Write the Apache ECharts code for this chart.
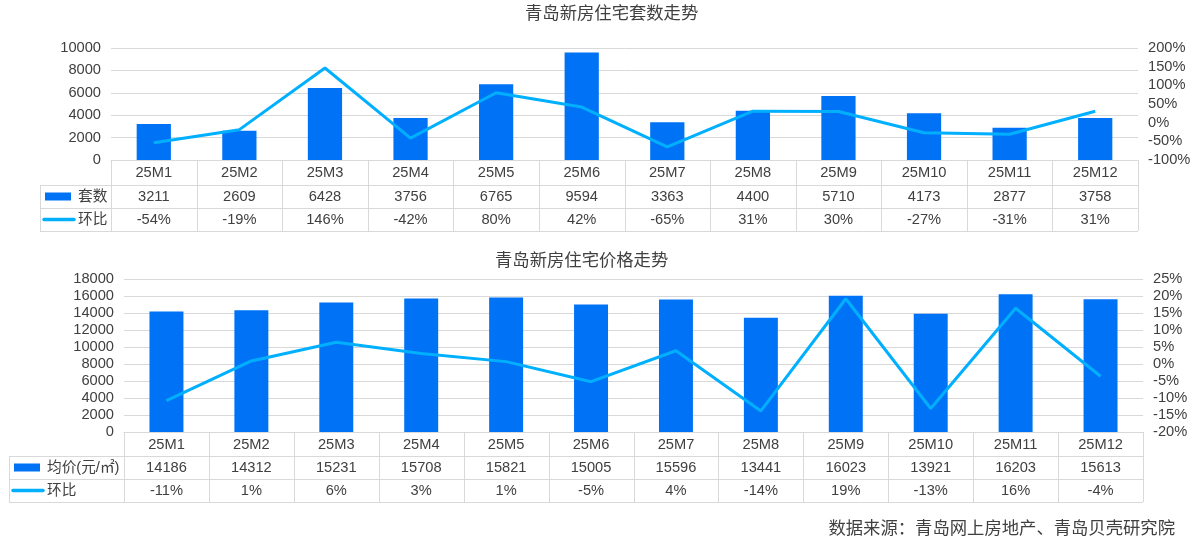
<!DOCTYPE html>
<html>
<head>
<meta charset="utf-8">
<script src="https://cdn.jsdelivr.net/npm/echarts@6/dist/echarts.min.js"></script>
<style>
html,body{margin:0;padding:0;background:#fff;}
#main{width:1201px;height:552px;}
</style>
</head>
<body>
<div id="main"></div>
<script>
// ---------- data ----------
const months = ['25M1','25M2','25M3','25M4','25M5','25M6','25M7','25M8','25M9','25M10','25M11','25M12'];
const unitSales = [3211, 2609, 6428, 3756, 6765, 9594, 3363, 4400, 5710, 4173, 2877, 3758];
const unitMoM = [-54, -18.7, 146.4, -41.6, 80.1, 41.8, -64.9, 30.8, 29.8, -26.9, -31.1, 30.6];
const unitMoMLabels = ['-54%','-19%','146%','-42%','80%','42%','-65%','31%','30%','-27%','-31%','31%'];
const avgPrice = [14186, 14312, 15231, 15708, 15821, 15005, 15596, 13441, 16023, 13921, 16203, 15613];
const priceMoM = [-10.8, 0.9, 6.4, 3.1, 0.7, -5.2, 3.9, -13.8, 19.2, -13.1, 16.4, -3.6];
const priceMoMLabels = ['-11%','1%','6%','3%','1%','-5%','4%','-14%','19%','-13%','16%','-4%'];
const titleTop = '青岛新房住宅套数走势';
const titleBottom = '青岛新房住宅价格走势';
const seriesNames = ['套数', '环比', '均价(元/㎡)', '环比'];
const sourceText = '数据来源：青岛网上房地产、青岛贝壳研究院';

// ---------- style ----------
const BAR = '#0072F6';
const LINE = '#00B0FF';
const GRID = '#D9D9D9';
const TXT = '#404040';
const FONT = '"Liberation Sans", Arial, "Noto Sans CJK SC", sans-serif';
const FS = 14.67;

const chart = echarts.init(document.getElementById('main'), null, {renderer: 'canvas'});

const axisLabel = {color: TXT, fontSize: FS, fontFamily: FONT, margin: 10, formatter: v => String(v)};
const pctLabel = {color: TXT, fontSize: FS, fontFamily: FONT, margin: 10, formatter: v => v + '%'};
const option = {
  animation: false,
  backgroundColor: '#fff',
  title: [
    {text: titleTop, left: 525, top: 6, padding: 0,
     textStyle: {fontSize: 17.33, fontWeight: 'normal', color: TXT, fontFamily: FONT}},
    {text: titleBottom, left: 495, top: 253, padding: 0,
     textStyle: {fontSize: 17.33, fontWeight: 'normal', color: TXT, fontFamily: FONT}}
  ],
  grid: [
    {left: 111, right: 63, top: 48, height: 112},
    {left: 124, right: 58, top: 279, height: 153}
  ],
  xAxis: [
    {type: 'category', gridIndex: 0, data: months, axisLine: {lineStyle: {color: GRID, width: 1}},
     axisTick: {show: false}, axisLabel: {show: false}},
    {type: 'category', gridIndex: 1, data: months, axisLine: {lineStyle: {color: GRID, width: 1}},
     axisTick: {show: false}, axisLabel: {show: false}}
  ],
  yAxis: [
    {type: 'value', gridIndex: 0, min: 0, max: 10000, interval: 2000, axisLabel: axisLabel,
     splitLine: {lineStyle: {color: GRID}}, axisLine: {show: false}, axisTick: {show: false}},
    {type: 'value', gridIndex: 0, min: -100, max: 200, interval: 50, position: 'right',
     axisLabel: pctLabel,
     splitLine: {show: false}, axisLine: {show: false}, axisTick: {show: false}},
    {type: 'value', gridIndex: 1, min: 0, max: 18000, interval: 2000, axisLabel: axisLabel,
     splitLine: {lineStyle: {color: GRID}}, axisLine: {show: false}, axisTick: {show: false}},
    {type: 'value', gridIndex: 1, min: -20, max: 25, interval: 5, position: 'right',
     axisLabel: pctLabel,
     splitLine: {show: false}, axisLine: {show: false}, axisTick: {show: false}}
  ],
  series: [
    {name: seriesNames[0], type: 'bar', xAxisIndex: 0, yAxisIndex: 0, data: unitSales,
     barWidth: '40%', itemStyle: {color: BAR}},
    {name: seriesNames[1], type: 'line', xAxisIndex: 0, yAxisIndex: 1, data: unitMoM,
     symbol: 'none', lineStyle: {color: LINE, width: 3}, itemStyle: {color: LINE}},
    {name: seriesNames[2], type: 'bar', xAxisIndex: 1, yAxisIndex: 2, data: avgPrice,
     barWidth: '40%', itemStyle: {color: BAR}},
    {name: seriesNames[3], type: 'line', xAxisIndex: 1, yAxisIndex: 3, data: priceMoM,
     symbol: 'none', lineStyle: {color: LINE, width: 3}, itemStyle: {color: LINE}}
  ]
};
chart.setOption(option);

// ---------- data table under each chart ----------
function px(v) { return Math.round(v) + 0.5; }
function tableGraphics(xIdx, yIdx, values, pctLabels, barName, lineName, legendLeft, rowH) {
  const els = [];
  const xs = months.map((m, i) => chart.convertToPixel({xAxisIndex: xIdx}, i));
  const colW = xs[1] - xs[0];
  const left = xs[0] - colW / 2;
  const right = xs[xs.length - 1] + colW / 2;
  const y0 = chart.convertToPixel({yAxisIndex: yIdx}, 0);
  const y1 = y0 + rowH[0], y2 = y1 + rowH[1], y3 = y2 + rowH[2];
  const line = (x1, yA, x2, yB) => els.push({type: 'line', silent: true,
    shape: {x1: x1, y1: yA, x2: x2, y2: yB}, style: {stroke: GRID, lineWidth: 1}});
  line(legendLeft, px(y1), right, px(y1));
  line(legendLeft, px(y2), right, px(y2));
  line(legendLeft, px(y3), right, px(y3));
  for (let k = 0; k <= months.length; k++) {
    const x = px(left + k * colW);
    line(x, y0, x, y3);
  }
  line(px(legendLeft), y1, px(legendLeft), y3);
  const txt = (s, x, y, align) => els.push({type: 'text', silent: true,
    style: {text: s, x: x, y: y, fill: TXT, fontSize: FS, fontFamily: FONT,
      textAlign: align || 'center', textVerticalAlign: 'middle', verticalAlign: 'middle'}});
  const c0 = (y0 + y1) / 2 + 0.5, c1 = (y1 + y2) / 2 + 0.5, c2 = (y2 + y3) / 2 + 0.5;
  months.forEach((m, i) => {
    txt(m, xs[i], c0);
    txt(String(values[i]), xs[i], c1);
    txt(pctLabels[i], xs[i], c2);
  });
  // legend keys
  els.push({type: 'rect', silent: true, shape: {x: legendLeft + 5, y: c1 - 4.5, width: 26, height: 8},
    style: {fill: BAR}});
  els.push({type: 'line', silent: true, shape: {x1: legendLeft + 4, y1: c2 - 0.5, x2: legendLeft + 34, y2: c2 - 0.5},
    style: {stroke: LINE, lineWidth: 3.5, lineCap: 'round'}});
  txt(barName, legendLeft + 38, c1, 'left');
  txt(lineName, legendLeft + 38, c2, 'left');
  return els;
}

const graphics = []
  .concat(tableGraphics(0, 0, unitSales, unitMoMLabels, seriesNames[0], seriesNames[1], 40, [25, 23, 23]))
  .concat(tableGraphics(1, 2, avgPrice, priceMoMLabels, seriesNames[2], seriesNames[3], 9, [24, 23, 23]));
graphics.push({type: 'text', silent: true,
  style: {text: sourceText, x: 1175, y: 529, fill: TXT, fontSize: 17.33, fontFamily: FONT,
    textAlign: 'right', textVerticalAlign: 'middle', verticalAlign: 'middle'}});
chart.setOption({graphic: graphics});
</script>
</body>
</html>
